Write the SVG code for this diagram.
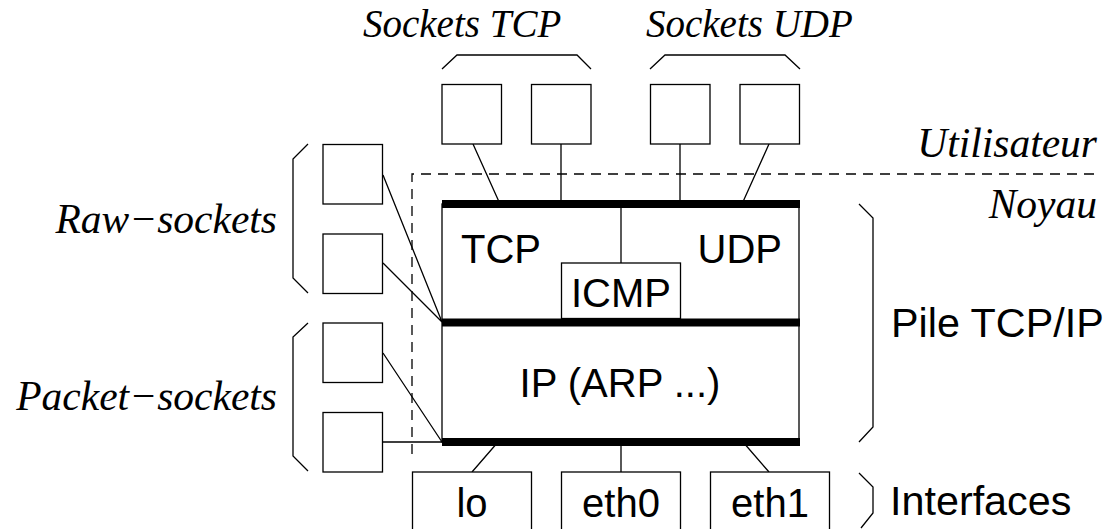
<svg xmlns="http://www.w3.org/2000/svg" width="1106" height="529" viewBox="0 0 1106 529">
<style>
.ln{fill:none;stroke:#000;stroke-width:1.3}
.bx{fill:#fff;stroke:#000;stroke-width:1.3}
.bar{fill:none;stroke:#000;stroke-width:8}
.dash{fill:none;stroke:#000;stroke-width:1.3;stroke-dasharray:10,7}
.it{font-family:"Liberation Serif",serif;font-style:italic;font-size:41.5px;fill:#000}
.it.top{font-size:39px}
.sa{font-family:"Liberation Sans",sans-serif;font-size:40px;fill:#000}
.sa.lab{font-size:41.3px}
</style>
<rect width="1106" height="529" fill="#fff"/>
<g id="boundary">
<path class="dash" d="M412,454 V174 H1100"/>
<text class="it" x="1097" y="157" text-anchor="end">Utilisateur</text>
<text class="it" x="1097" y="218" text-anchor="end">Noyau</text>
</g>
<g id="connectors">
<path class="ln" d="M473,144 L500,204 M561,144 V204 M680,144 V204 M769,144 L742,204"/>
<path class="ln" d="M383,175 L442,322 M383,263 L442,322 M383,353 L442,442 M383,442 H442"/>
<path class="ln" d="M498,442 L472,472 M621,442 V472 M743,442 L769,472"/>
</g>
<g id="stack">
<rect class="bx" x="442" y="204" width="357" height="238"/>
<path class="ln" d="M621,204 V263"/>
<path class="bar" d="M442,204 H800 M442,322.5 H800 M442,442 H800"/>
<text class="sa" x="461" y="263">TCP</text>
<text class="sa" x="782" y="263" text-anchor="end">UDP</text>
<text class="sa" x="620" y="397" text-anchor="middle">IP (ARP ...)</text>
</g>
<g id="icmp">
<rect class="bx" x="561.5" y="263" width="119" height="55.5"/>
<text class="sa" x="621" y="307" text-anchor="middle">ICMP</text>
</g>
<g id="sockets-tcp">
<rect class="bx" x="442" y="84.5" width="59.5" height="59.5"/>
<rect class="bx" x="531.5" y="84.5" width="59.5" height="59.5"/>
<path class="ln" d="M442,69 L457,55 H577 L591,69"/>
<text class="it top" x="363" y="37">Sockets TCP</text>
</g>
<g id="sockets-udp">
<rect class="bx" x="650.5" y="84.5" width="59.5" height="59.5"/>
<rect class="bx" x="740" y="84.5" width="59.5" height="59.5"/>
<path class="ln" d="M650,69 L665,55 H785 L800,69"/>
<text class="it top" x="646" y="37">Sockets UDP</text>
</g>
<g id="raw-sockets">
<rect class="bx" x="323" y="144.5" width="59.5" height="59.5"/>
<rect class="bx" x="323" y="234" width="59.5" height="59.5"/>
<path class="ln" d="M308,144 L293,159 V278 L308,293"/>
<text class="it" x="277" y="233" text-anchor="end">Raw−sockets</text>
</g>
<g id="packet-sockets">
<rect class="bx" x="323" y="323" width="59.5" height="59.5"/>
<rect class="bx" x="323" y="412.5" width="59.5" height="59.5"/>
<path class="ln" d="M308,323 L293,337 V456 L308,471"/>
<text class="it" x="277" y="410" text-anchor="end">Packet−sockets</text>
</g>
<g id="pile">
<path class="ln" d="M859,204 L873,218 V427 L859,442"/>
<text class="sa lab" x="891" y="337">Pile TCP/IP</text>
</g>
<g id="if-lo">
<rect class="bx" x="412.5" y="472" width="119" height="70"/>
<text class="sa" x="472" y="517" text-anchor="middle">lo</text>
</g>
<g id="if-eth0">
<rect class="bx" x="561.5" y="472" width="119" height="70"/>
<text class="sa" x="621" y="517" text-anchor="middle">eth0</text>
</g>
<g id="if-eth1">
<rect class="bx" x="710.5" y="472" width="119" height="70"/>
<text class="sa" x="770" y="517" text-anchor="middle">eth1</text>
</g>
<g id="interfaces">
<path class="ln" d="M859,473 L873,487 V513 L861,528"/>
<text class="sa lab" x="890" y="515">Interfaces</text>
</g>
</svg>
